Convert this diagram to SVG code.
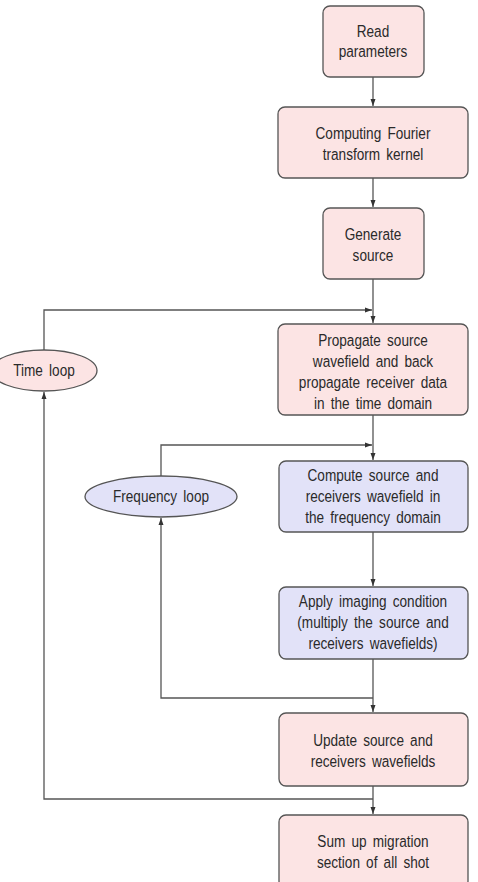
<svg xmlns="http://www.w3.org/2000/svg" width="478" height="882" viewBox="0 0 478 882">
<defs>
<marker id="ah" markerWidth="8" markerHeight="6" refX="7" refY="3" orient="auto" markerUnits="userSpaceOnUse">
<path d="M0,0.5 L7,3 L0,5.5 Z" fill="#333"/>
</marker>
<style>
.pk{fill:#fce4e4;stroke:#555;stroke-width:1.3}
.bl{fill:#e2e2f8;stroke:#555;stroke-width:1.3}
.ln{fill:none;stroke:#555;stroke-width:1.3}
text{font-family:"Liberation Sans",Arial,sans-serif;font-size:17px;fill:#2a2a2a;text-anchor:middle;word-spacing:3px}
</style>
</defs>
<g id="connectors">
<path class="ln" d="M373,77 V106" marker-end="url(#ah)"/>
<path class="ln" d="M373,178 V207" marker-end="url(#ah)"/>
<path class="ln" d="M373,279 V323" marker-end="url(#ah)"/>
<path class="ln" d="M44,350 V310 H372" marker-end="url(#ah)"/>
<path class="ln" d="M373,415 V460" marker-end="url(#ah)"/>
<path class="ln" d="M161,476 V445 H372" marker-end="url(#ah)"/>
<path class="ln" d="M373,532 V586" marker-end="url(#ah)"/>
<path class="ln" d="M373,659 V712" marker-end="url(#ah)"/>
<path class="ln" d="M373,698 H161 V518" marker-end="url(#ah)"/>
<path class="ln" d="M373,786 V814" marker-end="url(#ah)"/>
<path class="ln" d="M373,799 H44 V392" marker-end="url(#ah)"/>
</g>
<g id="read">
<rect class="pk" x="323" y="6" width="101" height="71" rx="7"/>
<g transform="scale(0.8 1)">
<text x="466.25" y="37">Read</text>
<text x="466.25" y="57">parameters</text>
</g>
</g>
<g id="fourier">
<rect class="pk" x="278" y="107" width="190" height="71" rx="7"/>
<g transform="scale(0.8 1)">
<text x="466.25" y="139">Computing Fourier</text>
<text x="466.25" y="160">transform kernel</text>
</g>
</g>
<g id="generate">
<rect class="pk" x="323" y="208" width="101" height="71" rx="7"/>
<g transform="scale(0.8 1)">
<text x="466.25" y="240">Generate</text>
<text x="466.25" y="261">source</text>
</g>
</g>
<g id="propagate">
<rect class="pk" x="278" y="324" width="190" height="91" rx="7"/>
<g transform="scale(0.8 1)">
<text x="466.25" y="346">Propagate source</text>
<text x="466.25" y="367">wavefield and back</text>
<text x="466.25" y="388">propagate receiver data</text>
<text x="466.25" y="409">in the time domain</text>
</g>
</g>
<g id="timeloop">
<ellipse class="pk" cx="44" cy="370.5" rx="53" ry="20.5"/>
<g transform="scale(0.8 1)">
<text x="55" y="376">Time loop</text>
</g>
</g>
<g id="compute">
<rect class="bl" x="279" y="461" width="189" height="71" rx="7"/>
<g transform="scale(0.8 1)">
<text x="466.25" y="481">Compute source and</text>
<text x="466.25" y="502">receivers wavefield in</text>
<text x="466.25" y="523">the frequency domain</text>
</g>
</g>
<g id="freqloop">
<ellipse class="bl" cx="161" cy="496.5" rx="76" ry="20.5"/>
<g transform="scale(0.8 1)">
<text x="201.25" y="502">Frequency loop</text>
</g>
</g>
<g id="apply">
<rect class="bl" x="279" y="587" width="189" height="72" rx="7"/>
<g transform="scale(0.8 1)">
<text x="466.25" y="607">Apply imaging condition</text>
<text x="466.25" y="628">(multiply the source and</text>
<text x="466.25" y="649">receivers wavefields)</text>
</g>
</g>
<g id="update">
<rect class="pk" x="279" y="713" width="189" height="73" rx="7"/>
<g transform="scale(0.8 1)">
<text x="466.25" y="746">Update source and</text>
<text x="466.25" y="767">receivers wavefields</text>
</g>
</g>
<g id="sum">
<rect class="pk" x="279" y="815" width="189" height="73" rx="7"/>
<g transform="scale(0.8 1)">
<text x="466.25" y="847">Sum up migration</text>
<text x="466.25" y="868">section of all shot</text>
</g>
</g>
</svg>
